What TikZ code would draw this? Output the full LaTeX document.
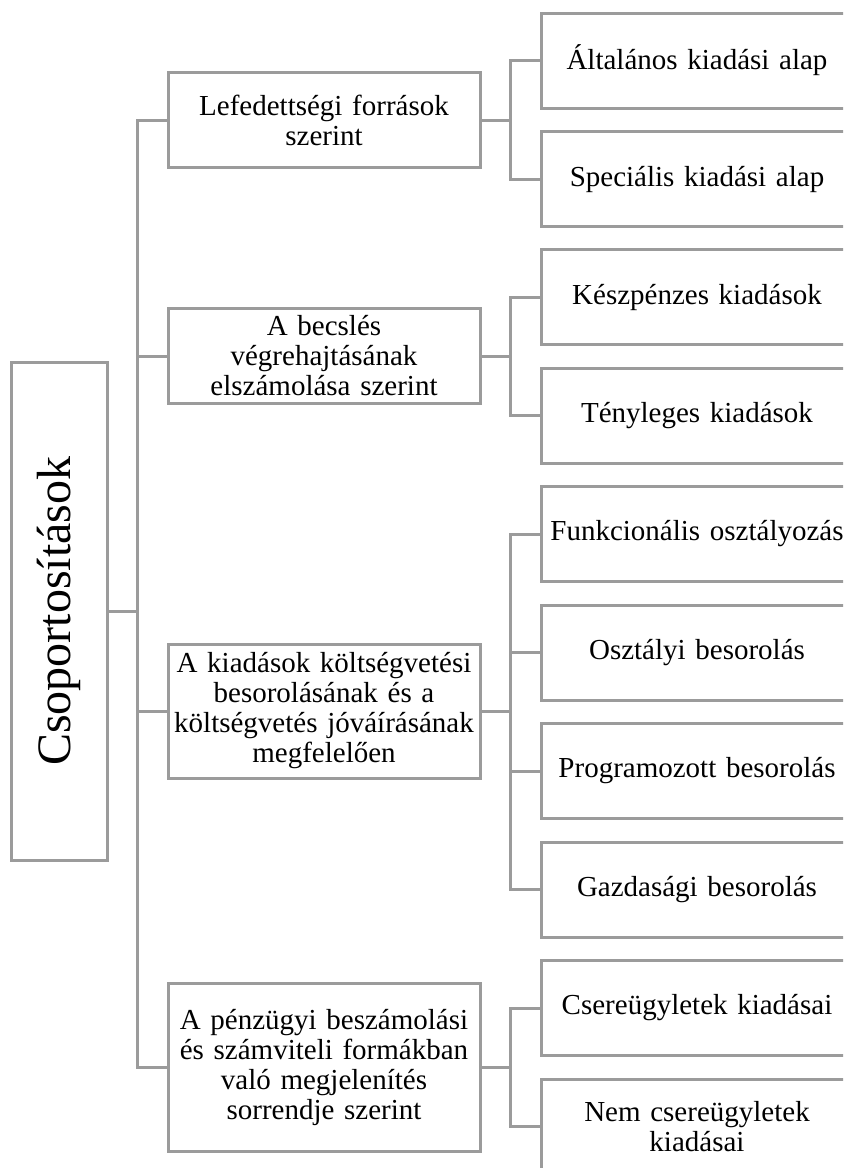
\documentclass[tikz,border=0pt]{standalone}
\usepackage{fontspec}
\setmainfont{Liberation Serif}
\definecolor{linegray}{RGB}{155,155,155}

\begin{document}
\begin{tikzpicture}
	% Styles
	[
	x=0.5pt, y=-0.5pt,
	link/.style={draw=linegray, line width=1.5pt},
	rootbox/.style={rectangle, draw=linegray, line width=1.5pt, rotate=90, minimum width=249pt, minimum height=48pt, inner sep=0pt, font=\fontsize{24}{28}\selectfont},
	catbox/.style={rectangle, draw=linegray, line width=1.5pt, text width=153pt, align=center, inner xsep=1.5pt, inner ysep=0pt, minimum height=47.5pt, font=\fontsize{14.5}{15}\selectfont},
	leafbox/.style={catbox},
	]

	% Page
	\useasboundingbox (0,0) rectangle (843,1168);
	\clip (0,0) rectangle (843,1168);

	% Nodes
	\node at (59,611)	(root)	[rootbox]	{Csoportosítások};

	\node at (324,120)	(g1)	[catbox]	{Lefedettségi források\\szerint};
	\node at (324,356)	(g2)	[catbox]	{A becslés\\végrehajtásának\\elszámolása szerint};
	\node at (324,711)	(g3)	[catbox, minimum height=67pt]	{A kiadások költségvetési\\besorolásának és a\\költségvetés jóváírásának\\megfelelően};
	\node at (324,1067)	(g4)	[catbox, minimum height=84pt]	{A pénzügyi beszámolási\\és számviteli formákban\\való megjelenítés\\sorrendje szerint};

	\node at (697,60.5)	(l1)	[leafbox]	{Általános kiadási alap};
	\node at (697,179)	(l2)	[leafbox]	{Speciális kiadási alap};
	\node at (697,297)	(l3)	[leafbox]	{Készpénzes kiadások};
	\node at (697,415.5)	(l4)	[leafbox]	{Tényleges kiadások};
	\node at (697,534)	(l5)	[leafbox]	{Funkcionális osztályozás};
	\node at (697,652.5)	(l6)	[leafbox]	{Osztályi besorolás};
	\node at (697,771)	(l7)	[leafbox]	{Programozott besorolás};
	\node at (697,889.5)	(l8)	[leafbox]	{Gazdasági besorolás};
	\node at (697,1008)	(l9)	[leafbox]	{Csereügyletek kiadásai};
	\node at (697,1126.5)	(l10)	[leafbox]	{Nem csereügyletek\\kiadásai};

	% Junctions
	\coordinate (t0) at (137,611);
	\coordinate (s1) at (510,120);
	\coordinate (s2) at (510,356);
	\coordinate (s3) at (510,711);
	\coordinate (s4) at (510,1067);

	% Lines
	\draw[link] (root) -- (t0);
	\draw[link] (t0) |- (g1);
	\draw[link] (t0) |- (g2);
	\draw[link] (t0) |- (g3);
	\draw[link] (t0) |- (g4);

	\draw[link] (g1) -- (s1);
	\draw[link] (s1) |- (l1);
	\draw[link] (s1) |- (l2);

	\draw[link] (g2) -- (s2);
	\draw[link] (s2) |- (l3);
	\draw[link] (s2) |- (l4);

	\draw[link] (g3) -- (s3);
	\draw[link] (s3) |- (l5);
	\draw[link] (s3) |- (l6);
	\draw[link] (s3) |- (l7);
	\draw[link] (s3) |- (l8);

	\draw[link] (g4) -- (s4);
	\draw[link] (s4) |- (l9);
	\draw[link] (s4) |- (l10);
\end{tikzpicture}
\end{document}
